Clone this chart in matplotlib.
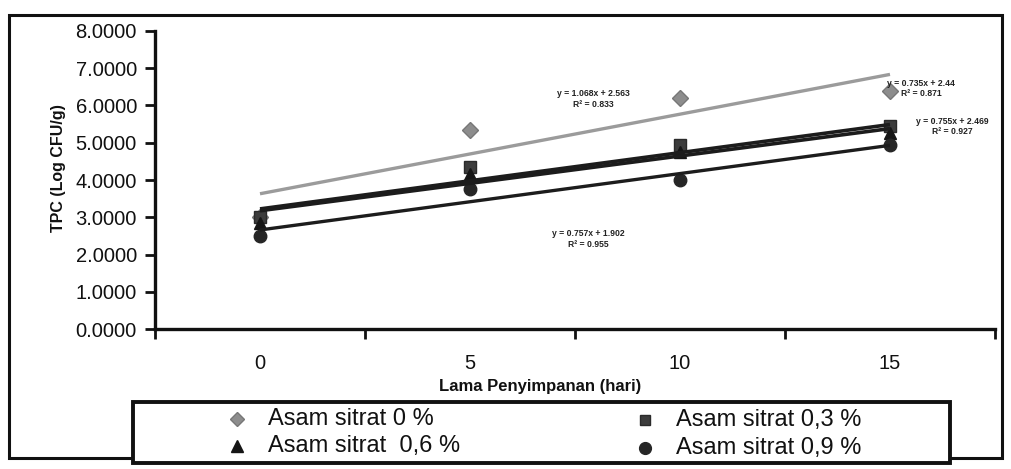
import matplotlib
matplotlib.use("Agg")
import matplotlib.pyplot as plt
import numpy as np
from matplotlib.lines import Line2D
from matplotlib.patches import Rectangle
from matplotlib.ticker import FixedLocator, FuncFormatter

# ---------------- data ----------------
days = ["0", "5", "10", "15"]
series_names = ["Asam sitrat 0 %", "Asam sitrat 0,3 %", "Asam sitrat 0,6 %", "Asam sitrat 0,9 %"]
tpc_0 = [3.00, 5.35, 6.20, 6.40]
tpc_03 = [3.00, 4.35, 4.95, 5.45]
tpc_06 = [2.85, 4.15, 4.75, 5.25]
tpc_09 = [2.50, 3.75, 4.00, 4.93]
# linear trendlines as printed on the chart (x = category index 1..4)
trend_slope = [1.068, 0.755, 0.735, 0.757]
trend_icpt = [2.563, 2.469, 2.44, 1.902]
trend_r2 = ["0.833", "0.927", "0.871", "0.955"]
y_ticks = [0, 1, 2, 3, 4, 5, 6, 7, 8]

W, H = 1011, 469
plt.rcParams['font.family'] = ['Liberation Sans', 'DejaVu Sans']
fig = plt.figure(figsize=(W / 100, H / 100), dpi=100)
fig.patch.set_facecolor("white")


def px(x, y):
    return (x / W, 1 - y / H)


ax_l, ax_r, ax_t, ax_b = 155, 995, 31, 329
ax = fig.add_axes([ax_l / W, 1 - ax_b / H, (ax_r - ax_l) / W, (ax_b - ax_t) / H])
ax.set_facecolor("none")

x = np.arange(1, len(days) + 1)
styles = [
    dict(marker="D", ms=8, mfc="#8d8d8d", mec="#777777", mew=1.0),
    dict(marker="s", ms=8, mfc="#3c3c3c", mec="#2a2a2a", mew=1.0),
    dict(marker="^", ms=9, mfc="#151515", mec="#151515", mew=1.0),
    dict(marker="o", ms=9, mfc="#262626", mec="#262626", mew=1.0),
]
line_styles = [
    dict(color="#9b9b9b", lw=2.4),
    dict(color="#1c1c1c", lw=2.6),
    dict(color="#1c1c1c", lw=2.6),
    dict(color="#1c1c1c", lw=2.4),
]
data = [tpc_0, tpc_03, tpc_06, tpc_09]
for vals, st in zip(data, styles):
    ax.plot(x, vals, linestyle="none", zorder=3, **st)
for k, (m, b) in enumerate(zip(trend_slope, trend_icpt)):
    xt = np.array([x[0], x[-1]])
    ax.plot(xt, m * xt + b, solid_capstyle="butt", zorder=4, **line_styles[k])

ax.set_xlim(0.5, len(days) + 0.5)
ax.set_ylim(0, 8)
for s in ["top", "right"]:
    ax.spines[s].set_visible(False)
for s in ["left", "bottom"]:
    ax.spines[s].set_linewidth(2.4)
    ax.spines[s].set_color("#111111")

ax.yaxis.set_major_locator(FixedLocator(y_ticks))
ax.yaxis.set_major_formatter(FuncFormatter(lambda v, p: f"{v:.4f}"))
ax.tick_params(axis="y", direction="out", length=7, width=2, color="#111111",
               labelsize=14.5, pad=6, labelcolor="#111111")

ax.xaxis.set_major_locator(FixedLocator(np.arange(0.5, len(days) + 1, 1.0)))
ax.xaxis.set_major_formatter(FuncFormatter(lambda v, p: ""))
ax.xaxis.set_minor_locator(FixedLocator(x))
ax.set_xticklabels(days, minor=True)
ax.tick_params(axis="x", which="major", direction="out", length=7, width=2, color="#111111")
ax.tick_params(axis="x", which="minor", length=0, labelsize=14.5, pad=18, labelcolor="#111111")

# trendline equations
eq_pos = [(593, 93, 104), (952, 121, 131), (921, 84, 94), (588, 233, 244)]
for k, (cx, y1, y2) in enumerate(eq_pos):
    fig.text(*px(cx, y1), f"y = {trend_slope[k]}x + {trend_icpt[k]}", fontsize=6.2,
             fontweight="bold", ha="center", va="center", color="#222222", zorder=6)
    fig.text(*px(cx, y2), f"R² = {trend_r2[k]}", fontsize=6.2,
             fontweight="bold", ha="center", va="center", color="#222222", zorder=6)

# axis titles
fig.text(*px(540, 386), "Lama Penyimpanan (hari)", fontsize=12, fontweight="bold",
         ha="center", va="center", color="#111111",
         family=["Liberation Sans Narrow", "Liberation Sans", "DejaVu Sans"])
fig.text(*px(58, 168), "TPC (Log CFU/g)", fontsize=11.5, fontweight="bold", rotation=90,
         ha="center", va="center", color="#111111")

# chart frame
(fx0, fy0), (fx1, fy1) = px(9, 458), px(1002, 15)
fig.add_artist(Rectangle((fx0, fy0), fx1 - fx0, fy1 - fy0, transform=fig.transFigure,
                         fill=False, lw=2.2, edgecolor="#111111", zorder=1))

# legend box
(lx0, ly0), (lx1, ly1) = px(133, 463), px(950, 402)
fig.add_artist(Rectangle((lx0, ly0), lx1 - lx0, ly1 - ly0, transform=fig.transFigure,
                         facecolor="white", lw=2.8, edgecolor="#111111", zorder=5))
leg_pos = [(237, 419), (645, 420), (237, 446), (645, 448)]
leg_labels = ["Asam sitrat 0 %", "Asam sitrat 0,3 %", "Asam sitrat  0,6 %", "Asam sitrat 0,9 %"]
for k, (mx, my) in enumerate(leg_pos):
    st = dict(styles[k])
    st["ms"] = st["ms"] - 0.5
    fig.add_artist(Line2D([mx / W], [1 - my / H], transform=fig.transFigure,
                          linestyle="none", zorder=6, **st))
    fig.text(*px(mx + 31, my), leg_labels[k], fontsize=17, ha="left", va="center",
             color="#111111", zorder=6)

fig.savefig("out.png", dpi=100, facecolor="white")
